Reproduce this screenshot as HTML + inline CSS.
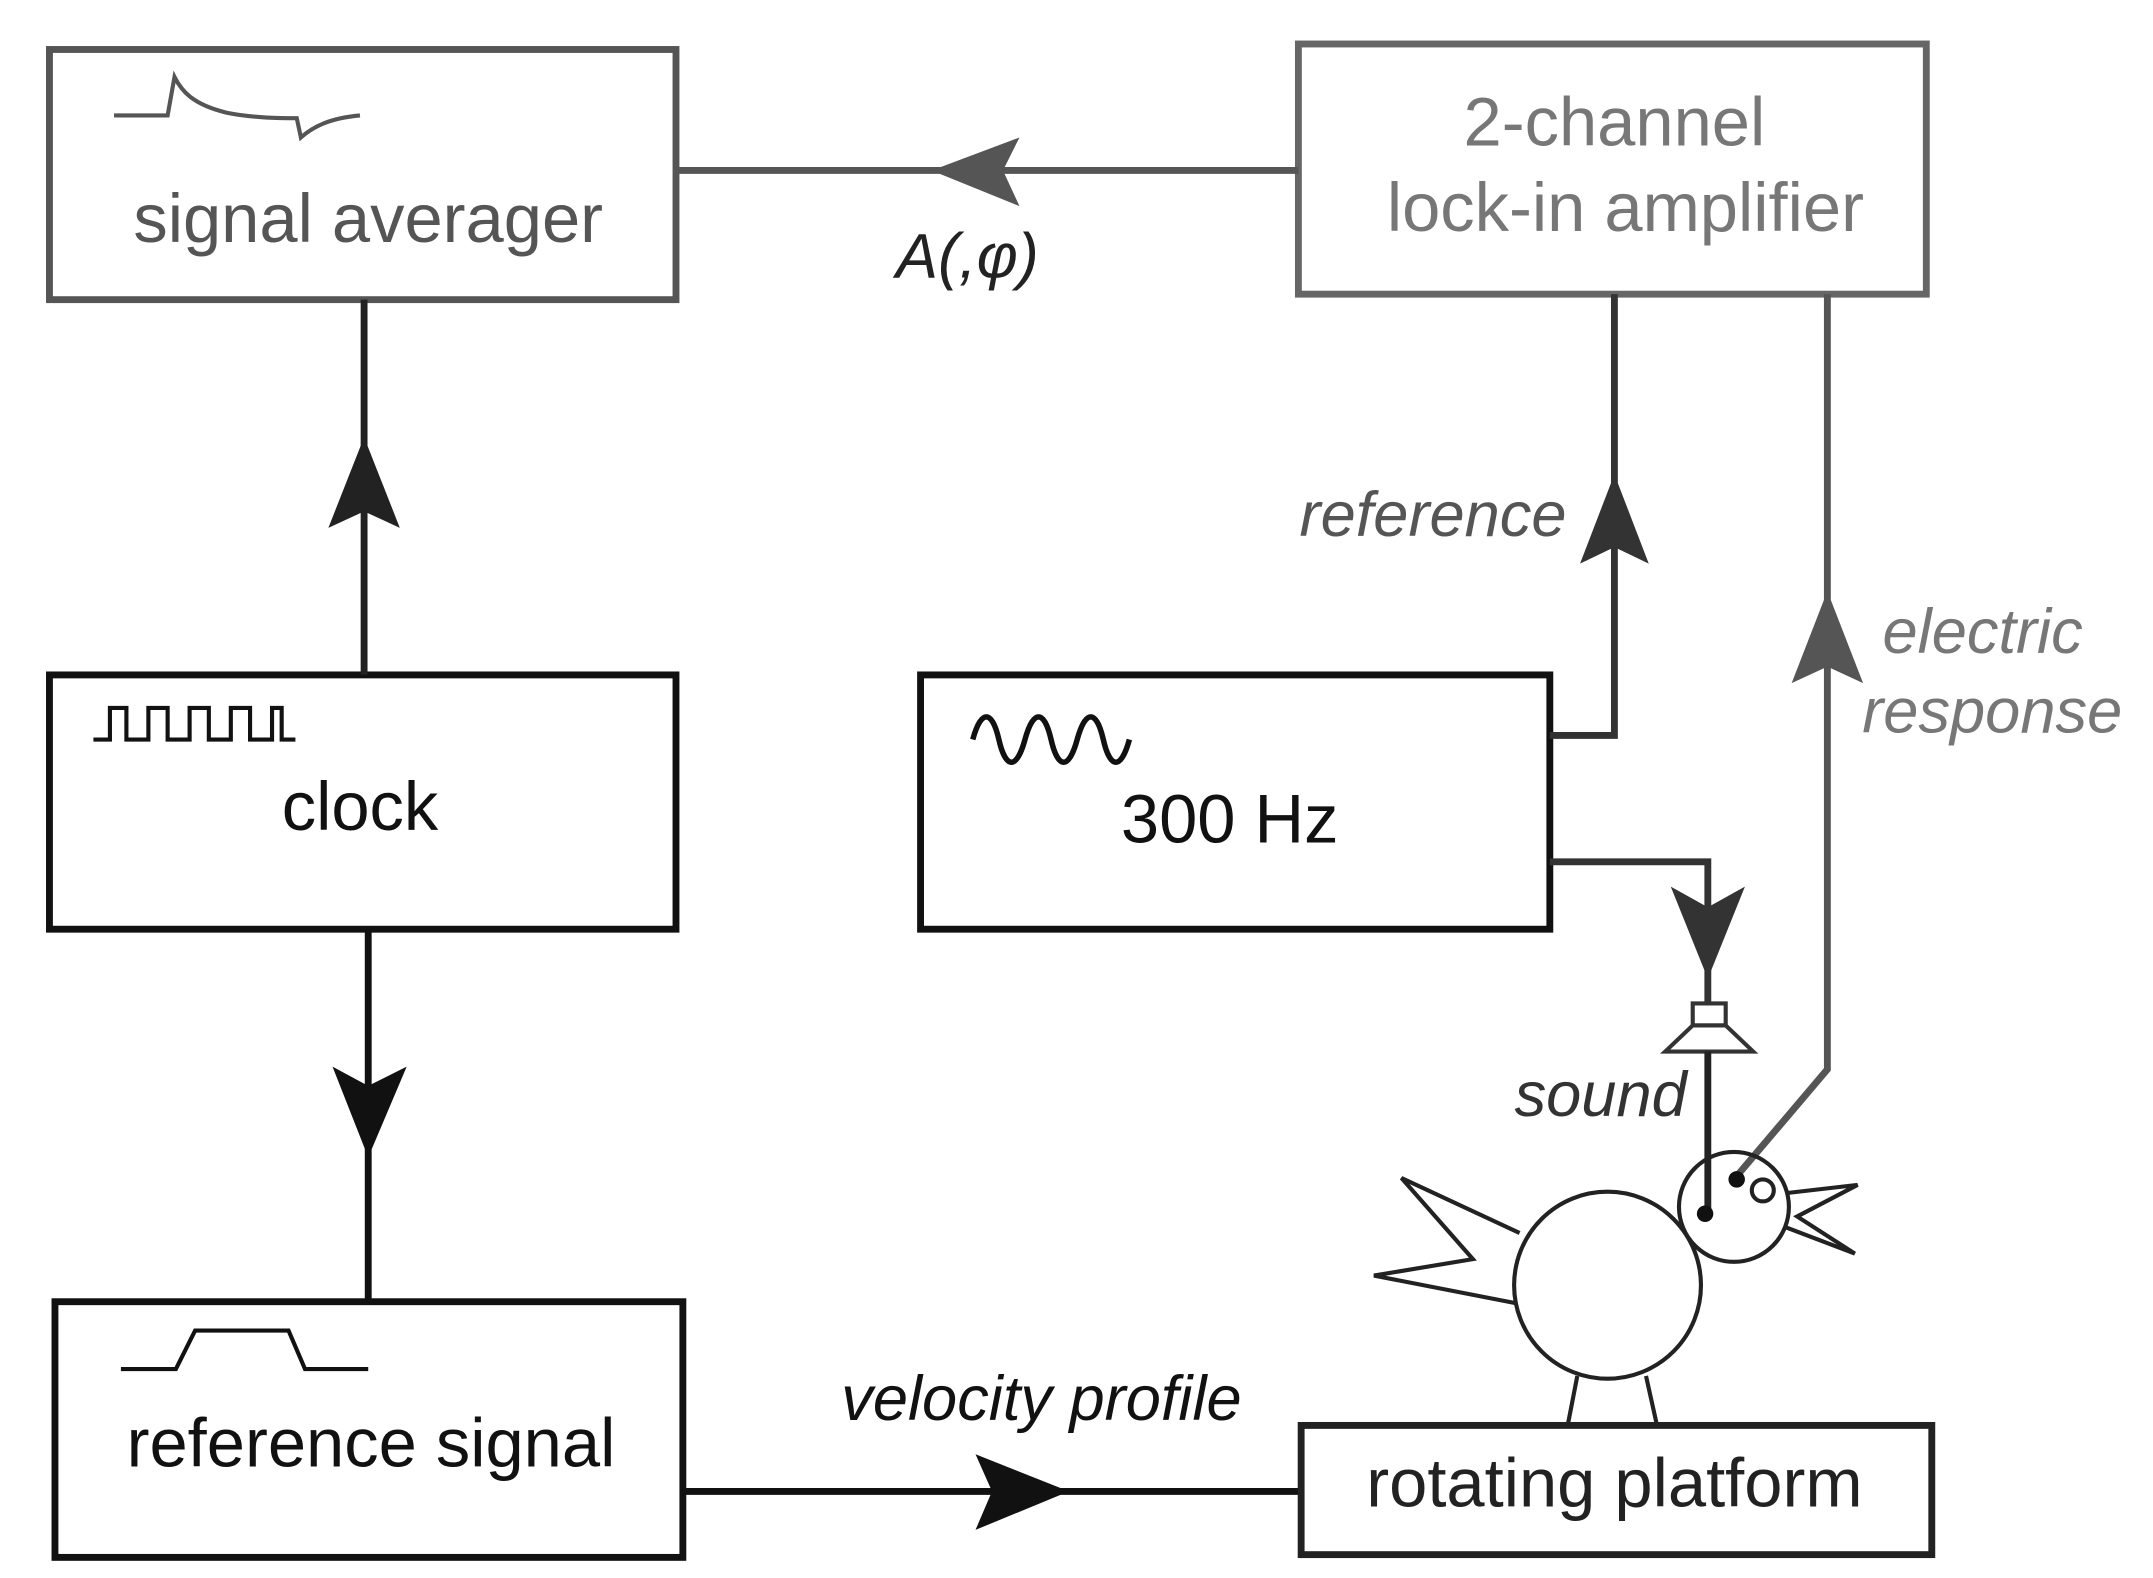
<!DOCTYPE html>
<html><head><meta charset="utf-8"><style>
html,body{margin:0;padding:0;background:#fff;}
svg{display:block;}
text{font-family:"Liberation Sans",sans-serif;}
</style></head><body>
<svg width="2153" height="1578" viewBox="0 0 1567 1148" preserveAspectRatio="none" xmlns="http://www.w3.org/2000/svg">
<rect width="1567" height="1148" fill="#fff"/>
<!-- signal averager -->
<rect x="36" y="36" width="456" height="182" fill="none" stroke="#555" stroke-width="5"/>
<path d="M83,84 L122,84 L127,56 C132,66 140,76 165,82 C185,86 205,86 216,86 L219,100 C228,92 240,86 262,84" fill="none" stroke="#555" stroke-width="3"/>
<text x="268" y="176" font-size="50" fill="#555" text-anchor="middle">signal averager</text>
<!-- lock-in -->
<rect x="945" y="32" width="457" height="182" fill="none" stroke="#666" stroke-width="5"/>
<text x="1175" y="106" font-size="50" fill="#777" text-anchor="middle">2-channel</text>
<text x="1183" y="168" font-size="50" fill="#777" text-anchor="middle">lock-in amplifier</text>
<line x1="492" y1="124" x2="945" y2="124" stroke="#555" stroke-width="5"/>
<polygon points="678,124 742,100 730,124 742,150" fill="#555"/>
<text x="652" y="202" font-size="46" font-style="italic" fill="#222">A(,φ)</text>
<!-- clock -->
<rect x="36" y="491" width="456" height="185" fill="none" stroke="#111" stroke-width="5"/>
<polyline points="68,538 80,538 80,515 92,515 92,538 108,538 108,515 122,515 122,538 138,538 138,515 152,515 152,538 168,538 168,515 182,515 182,538 198,538 198,515 205,515 205,538 215,538" fill="none" stroke="#111" stroke-width="3"/>
<text x="262" y="604" font-size="50" fill="#111" text-anchor="middle">clock</text>
<line x1="265" y1="218" x2="265" y2="491" stroke="#222" stroke-width="5"/>
<polygon points="265,318 291,384 265,372 239,384" fill="#222"/>
<line x1="268" y1="676" x2="268" y2="945" stroke="#111" stroke-width="5"/>
<polygon points="268,842 296,776 268,790 242,776" fill="#111"/>
<!-- reference signal -->
<rect x="40" y="947" width="457" height="186" fill="none" stroke="#111" stroke-width="5"/>
<polyline points="88,996 128,996 142,968 210,968 222,996 268,996" fill="none" stroke="#111" stroke-width="3"/>
<text x="270" y="1067" font-size="50" fill="#111" text-anchor="middle">reference signal</text>
<line x1="497" y1="1085" x2="947" y2="1085" stroke="#111" stroke-width="5"/>
<polygon points="778,1085 710,1058 722,1085 710,1113" fill="#111"/>
<text x="758" y="1033" font-size="46" font-style="italic" fill="#111" text-anchor="middle">velocity profile</text>
<!-- rotating platform -->
<rect x="947" y="1037" width="459" height="94" fill="none" stroke="#222" stroke-width="5"/>
<text x="1175" y="1096" font-size="50" fill="#222" text-anchor="middle">rotating platform</text>
<!-- 300 Hz -->
<rect x="670" y="491" width="458" height="185" fill="none" stroke="#111" stroke-width="5"/>
<path d="M708,538 C714,516 722,516 727,538 C732,560 740,560 746,538 C752,516 760,516 765,538 C770,560 778,560 784,538 C790,516 798,516 803,538 C808,560 816,560 822,538" fill="none" stroke="#111" stroke-width="4"/>
<text x="895" y="613" font-size="50" fill="#111" text-anchor="middle">300 Hz</text>
<!-- reference line -->
<polyline points="1128,535 1175,535 1175,214" fill="none" stroke="#333" stroke-width="5"/>
<polygon points="1175,345 1200,410 1175,398 1150,410" fill="#333"/>
<text x="1043" y="390" font-size="46" font-style="italic" fill="#555" text-anchor="middle">reference</text>
<!-- electric response -->
<polyline points="1330,214 1330,778 1262,858" fill="none" stroke="#555" stroke-width="5"/>
<polygon points="1330,430 1356,497 1330,485 1304,497" fill="#555"/>
<text x="1443" y="475" font-size="46" font-style="italic" fill="#777" text-anchor="middle">electric</text>
<text x="1450" y="533" font-size="46" font-style="italic" fill="#777" text-anchor="middle">response</text>
<!-- sound -->
<polyline points="1128,627 1243,627 1243,730" fill="none" stroke="#333" stroke-width="5"/>
<polygon points="1243,712 1270,645 1243,660 1216,645" fill="#333"/>
<rect x="1232" y="730" width="24" height="16" fill="none" stroke="#333" stroke-width="3"/>
<polygon points="1232,746 1256,746 1276,765 1212,765" fill="none" stroke="#333" stroke-width="3"/>
<line x1="1243" y1="765" x2="1243" y2="883" stroke="#222" stroke-width="5"/>
<circle cx="1241" cy="883" r="6" fill="#111"/>
<text x="1165" y="812" font-size="46" font-style="italic" fill="#333" text-anchor="middle">sound</text>
<!-- bird -->
<circle cx="1170" cy="935" r="68" fill="none" stroke="#222" stroke-width="3"/>
<circle cx="1262" cy="878" r="40" fill="none" stroke="#222" stroke-width="3"/>
<circle cx="1283" cy="866" r="8" fill="none" stroke="#222" stroke-width="3"/>
<circle cx="1264" cy="858" r="6" fill="#111"/>
<polyline points="1300,868 1352,862 1308,885 1350,912 1300,893" fill="none" stroke="#222" stroke-width="3"/>
<polyline points="1106,897 1020,857 1072,916 1000,928 1103,948" fill="none" stroke="#222" stroke-width="3"/>
<line x1="1148" y1="1001" x2="1141" y2="1037" stroke="#222" stroke-width="3"/>
<line x1="1198" y1="1001" x2="1206" y2="1037" stroke="#222" stroke-width="3"/>
</svg>
</body></html>
